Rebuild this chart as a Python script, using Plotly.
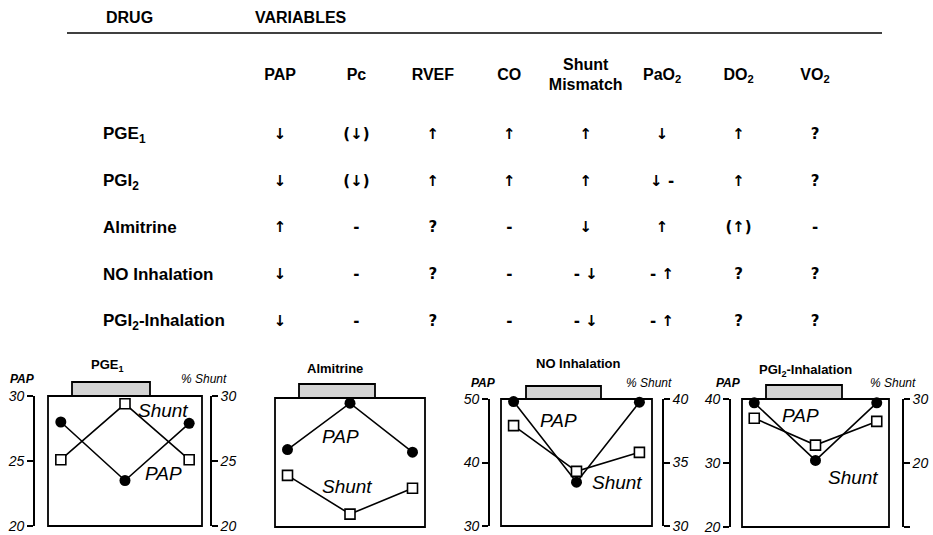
import plotly.graph_objects as go

W, H = 933, 535


def px(x):
    return x / W


def py(y):
    return 1 - y / H


# ---------------- data ----------------
drugs = ["PGE<sub>1</sub>", "PGI<sub>2</sub>", "Almitrine", "NO Inhalation",
         "PGI<sub>2</sub>-Inhalation"]
variables = ["PAP", "Pc", "RVEF", "CO", "Shunt<br>Mismatch", "PaO<sub>2</sub>",
             "DO<sub>2</sub>", "VO<sub>2</sub>"]
effects_pge1 = ["↓", "(↓)", "↑", "↑", "↑", "↓", "↑", "?"]
effects_pgi2 = ["↓", "(↓)", "↑", "↑", "↑", "↓ -", "↑", "?"]
effects_almitrine = ["↑", "-", "?", "-", "↓", "↑", "(↑)", "-"]
effects_no = ["↓", "-", "?", "-", "- ↓", "- ↑", "?", "?"]
effects_pgi2_inh = ["↓", "-", "?", "-", "- ↓", "- ↑", "?", "?"]
effects = [effects_pge1, effects_pgi2, effects_almitrine, effects_no, effects_pgi2_inh]

time_points = [0, 1, 2]  # before / during / after drug
panel_titles = ["PGE<sub>1</sub>", "Almitrine", "NO Inhalation", "PGI<sub>2</sub>-Inhalation"]
pap_pge1 = [28.0, 23.5, 27.9]
shunt_pge1 = [25.1, 29.4, 25.1]
pap_almitrine = [26.0, 29.6, 25.8]
shunt_almitrine = [24.0, 21.0, 23.0]
pap_no = [49.6, 36.9, 49.5]
shunt_no = [37.9, 34.3, 35.8]
pap_pgi2_inh = [39.4, 30.4, 39.4]
shunt_pgi2_inh = [27.0, 22.8, 26.5]
pap_ticks = [[20, 25, 30], [], [30, 40, 50], [20, 30, 40]]
shunt_ticks = [[20, 25, 30], [], [30, 35, 40], [10, 20, 30]]
shunt_ticktext = [["20", "25", "30"], [], ["30", "35", "40"], ["", "20", "30"]]

pap_series = [pap_pge1, pap_almitrine, pap_no, pap_pgi2_inh]
shunt_series = [shunt_pge1, shunt_almitrine, shunt_no, shunt_pgi2_inh]

# ---------------- panel geometry (pixels) ----------------
panels = [
    dict(box=(48, 202, 396, 526), laxis=34, raxis=211, prange=[20, 30], srange=[20, 30],
         bar=(72, 150, 382), title=(107, 365), axes=True,
         lab_pap=(163, 473), lab_shunt=(163, 410), ptitle=(22, 379), stitle=(204, 379)),
    dict(box=(275, 425, 398, 527), laxis=None, raxis=None, prange=[20, 30], srange=[20, 30],
         bar=(299, 375, 384), title=(335, 368), axes=False,
         lab_pap=(340, 436), lab_shunt=(347, 486)),
    dict(box=(501, 652, 399, 526), laxis=489, raxis=663, prange=[30, 50], srange=[30, 40],
         bar=(526, 601, 386), title=(578, 363), axes=True,
         lab_pap=(558, 420), lab_shunt=(617, 483), ptitle=(483, 383), stitle=(649, 383)),
    dict(box=(742, 889, 399, 527), laxis=730, raxis=903, prange=[20, 40], srange=[10, 30],
         bar=(766, 842, 385), title=(805, 370), axes=True,
         lab_pap=(800, 415), lab_shunt=(853, 477), ptitle=(728, 383), stitle=(893, 383)),
]

FONT = "Liberation Sans, Arial, sans-serif"
fig = go.Figure()
layout = dict(
    width=W, height=H, margin=dict(l=0, r=0, t=0, b=0),
    paper_bgcolor="white", plot_bgcolor="rgba(0,0,0,0)", showlegend=False,
    font=dict(family=FONT, color="black"),
)
shapes = []
annotations = []

italic = dict(family=FONT, style="italic", color="black")

for k, p in enumerate(panels):
    xn = "" if k == 0 else str(k + 1)
    yp = "" if k == 0 else str(2 * k + 1)
    ys = str(2 * k + 2)
    l, r, t, b = p["box"]
    layout["xaxis" + xn] = dict(domain=[px(l), px(r)], range=[-0.2, 2.2], visible=False,
                                anchor="y" + yp, fixedrange=True)
    common = dict(showgrid=False, zeroline=False, automargin=False, fixedrange=True,
                  linecolor="black", linewidth=1.6, tickcolor="black", tickwidth=1.6,
                  ticklen=6, tickfont=dict(size=14, **italic))
    if p["axes"]:
        layout["yaxis" + yp] = dict(domain=[py(b), py(t)], range=p["prange"], anchor="free",
                                    position=px(p["laxis"]), side="left", showline=True,
                                    ticks="outside", tickmode="array", tickvals=pap_ticks[k],
                                    **common)
        layout["yaxis" + ys] = dict(range=p["srange"], anchor="free", overlaying="y" + yp,
                                    position=px(p["raxis"]), side="right", showline=True,
                                    ticks="outside", tickmode="array", tickvals=shunt_ticks[k],
                                    ticktext=shunt_ticktext[k], **common)
    else:
        layout["yaxis" + yp] = dict(domain=[py(b), py(t)], range=p["prange"], anchor="x" + xn,
                                    visible=False, fixedrange=True)
        layout["yaxis" + ys] = dict(range=p["srange"], overlaying="y" + yp, anchor="x" + xn,
                                    visible=False, fixedrange=True)

    # box
    shapes.append(dict(type="rect", xref="paper", yref="paper", x0=px(l), x1=px(r),
                       y0=py(b), y1=py(t), line=dict(color="black", width=1.8),
                       fillcolor="rgba(0,0,0,0)", layer="below"))
    # drug administration bar
    bl, br, bt = p["bar"]
    shapes.append(dict(type="rect", xref="paper", yref="paper", x0=px(bl), x1=px(br),
                       y0=py(t), y1=py(bt), line=dict(color="black", width=1.8),
                       fillcolor="#d4d4d4", layer="above"))
    # panel title
    annotations.append(dict(text="<b>" + panel_titles[k] + "</b>", xref="paper", yref="paper",
                            x=px(p["title"][0]), y=py(p["title"][1]), showarrow=False,
                            xanchor="center", yanchor="middle",
                            font=dict(size=13, family=FONT)))
    # axis titles
    if p["axes"]:
        annotations.append(dict(text="PAP", xref="paper", yref="paper",
                                x=px(p["ptitle"][0]), y=py(p["ptitle"][1]), showarrow=False,
                                xanchor="center", yanchor="middle",
                                font=dict(size=12, weight="bold", **italic)))
        annotations.append(dict(text="% Shunt", xref="paper", yref="paper",
                                x=px(p["stitle"][0]), y=py(p["stitle"][1]), showarrow=False,
                                xanchor="center", yanchor="middle",
                                font=dict(size=12, **italic)))
    # series labels
    annotations.append(dict(text="PAP", xref="paper", yref="paper",
                            x=px(p["lab_pap"][0]), y=py(p["lab_pap"][1]), showarrow=False,
                            xanchor="center", yanchor="middle", font=dict(size=19, **italic)))
    annotations.append(dict(text="Shunt", xref="paper", yref="paper",
                            x=px(p["lab_shunt"][0]), y=py(p["lab_shunt"][1]), showarrow=False,
                            xanchor="center", yanchor="middle", font=dict(size=19, **italic)))

    # traces
    fig.add_trace(go.Scatter(x=time_points, y=shunt_series[k], xaxis="x" + xn, yaxis="y" + ys,
                             mode="lines+markers", cliponaxis=False,
                             line=dict(color="black", width=1.6),
                             marker=dict(symbol="square", size=10, color="white",
                                         line=dict(color="black", width=1.6)),
                             hoverinfo="skip"))
    fig.add_trace(go.Scatter(x=time_points, y=pap_series[k], xaxis="x" + xn, yaxis="y" + yp,
                             mode="lines+markers", cliponaxis=False,
                             line=dict(color="black", width=1.6),
                             marker=dict(symbol="circle", size=11, color="black"),
                             hoverinfo="skip"))

# ---------------- table ----------------
TOP = 350  # table occupies pixel rows 0..TOP
col_x0, col_dx = 280, (815 - 280) / 7
row_y0, row_dy = 135, (322 - 135) / 4
layout["xaxis5"] = dict(domain=[0, 1], range=[-col_x0 / col_dx, (W - col_x0) / col_dx],
                        visible=False, anchor="y9", fixedrange=True)
layout["yaxis9"] = dict(domain=[py(TOP), 1], range=[(TOP - row_y0) / row_dy, -row_y0 / row_dy],
                        visible=False, anchor="x5", fixedrange=True)

cell_x, cell_y, cell_t = [], [], []
for i, row in enumerate(effects):
    for j, v in enumerate(row):
        cell_x.append(j)
        cell_y.append(i)
        cell_t.append(v)

fig.add_trace(go.Scatter(x=cell_x, y=cell_y, text=cell_t, mode="text", xaxis="x5", yaxis="y9",
                         textposition="middle center", cliponaxis=False, hoverinfo="skip",
                         textfont=dict(size=15, weight="bold", color="black",
                                       family="DejaVu Sans, sans-serif")))
header_row = (76 - row_y0) / row_dy
fig.add_trace(go.Scatter(x=list(range(len(variables))), y=[header_row] * len(variables),
                         text=variables, mode="text", xaxis="x5", yaxis="y9",
                         textposition="middle center", cliponaxis=False, hoverinfo="skip",
                         textfont=dict(size=16, weight="bold", color="black", family=FONT)))
label_x = (103 - col_x0) / col_dx
fig.add_trace(go.Scatter(x=[label_x] * len(drugs), y=list(range(len(drugs))), text=drugs,
                         mode="text", xaxis="x5", yaxis="y9", textposition="middle right",
                         cliponaxis=False, hoverinfo="skip",
                         textfont=dict(size=17, weight="bold", color="black", family=FONT)))

annotations.append(dict(text="<b>DRUG</b>", xref="paper", yref="paper", x=px(129), y=py(17),
                        showarrow=False, xanchor="center", yanchor="middle",
                        font=dict(size=16)))
annotations.append(dict(text="<b>VARIABLES</b>", xref="paper", yref="paper", x=px(253), y=py(17),
                        showarrow=False, xanchor="left", yanchor="middle",
                        font=dict(size=16)))
shapes.append(dict(type="line", xref="paper", yref="paper", x0=px(67), x1=px(882),
                   y0=py(33), y1=py(33), line=dict(color="black", width=1.6)))

layout["shapes"] = shapes
layout["annotations"] = annotations
fig.update_layout(**layout)
fig.write_html("out.html", config={"displayModeBar": False},
               post_script="document.body.style.margin='0px';")
